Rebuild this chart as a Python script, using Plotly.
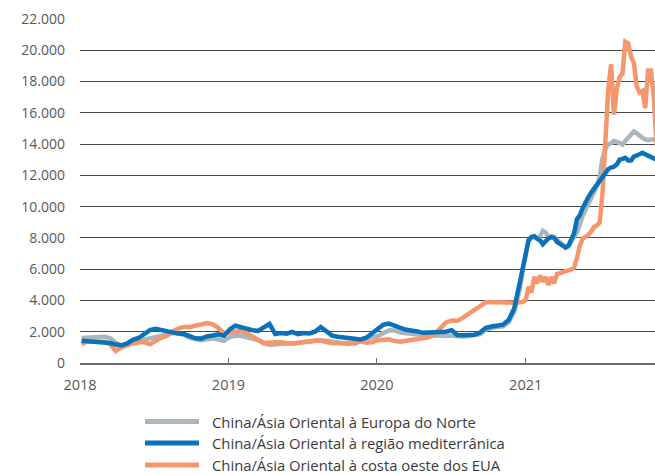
import pandas as pd
import plotly.graph_objects as go

# x grid: bi-weekly 2018-2020, weekly in 2021
dates_a = pd.date_range("2018-01-05", periods=78, freq="14D")
dates_b = pd.date_range("2020-12-25", periods=48, freq="7D")
dates = list(dates_a) + list(dates_b)

europa_norte = [
    1600, 1620, 1680, 1700, 1680, 1600, 1300, 1130, 1200, 1280, 1380, 1500, 1580, 1650, 1760, 1850,
    1920, 1880, 1800, 1600, 1500, 1460, 1520, 1560, 1500, 1420,
    1650, 1760, 1740, 1670, 1560, 1460, 1300, 1150, 1200, 1240, 1240, 1260, 1280, 1320, 1350, 1420,
    1460, 1420, 1350, 1300, 1200, 1200, 1400, 1500, 1560, 1640,
    1720, 1950, 2100, 2080, 1950, 1900, 1860, 1820, 1760, 1740, 1780, 1740, 1720, 1760, 1700, 1700,
    1720, 1750, 1850, 2150, 2250, 2300, 2350, 2600, 3300, 4800,
    6000, 7000, 7800, 8000, 8100, 7950, 8100, 8450, 8350, 8050, 8100, 8050, 7900, 7700, 7550, 7400,
    7450, 7700, 8050, 8350, 9000, 9400, 9800, 10200, 10600, 10900, 11300, 11900, 13100, 13700, 14000, 14050,
    14200, 14150, 14050, 13980, 14200, 14400, 14600, 14800, 14700, 14500, 14400, 14300, 14250, 14300, 14300, 14300,
]

mediterraneo = [
    1420, 1400, 1410, 1380, 1350, 1280, 1180, 1120, 1250, 1480, 1600, 1850, 2100, 2180, 2100, 2000,
    1920, 1880, 1850, 1720, 1580, 1560, 1700, 1760, 1840, 1750,
    2150, 2380, 2270, 2180, 2100, 2050, 2250, 2500, 1850, 1920, 1870, 1990, 1840, 1920, 1890, 2000,
    2300, 2000, 1750, 1680, 1640, 1600, 1570, 1510, 1620, 1900,
    2250, 2450, 2520, 2420, 2250, 2120, 2100, 2020, 1930, 1940, 2000, 1940, 2000, 2100, 1780, 1780,
    1790, 1810, 1950, 2250, 2330, 2380, 2450, 2750, 3500, 5200,
    6200, 7100, 7860, 8050, 8100, 7950, 7850, 7600, 7800, 7970, 8050, 8000, 7750, 7600, 7500, 7380,
    7500, 7900, 8300, 9200, 9450, 9900, 10300, 10600, 10900, 11150, 11350, 11700, 11950, 12200, 12400, 12500,
    12550, 12700, 13000, 13050, 13120, 12950, 12950, 13200, 13250, 13350, 13440, 13350, 13250, 13100, 13050, 13000,
]

costa_oeste_eua = [
    1200, 1390, 1370, 1350, 1350, 1200, 760, 1000, 1150, 1250, 1320, 1330, 1200, 1450, 1620, 1750,
    2020, 2200, 2310, 2310, 2380, 2470, 2560, 2480, 2250, 1900,
    1950, 2050, 2050, 1920, 1700, 1400, 1260, 1310, 1340, 1330, 1280, 1240, 1300, 1350, 1400, 1440,
    1420, 1330, 1260, 1260, 1300, 1280, 1240, 1390, 1300, 1320,
    1460, 1500, 1510, 1400, 1360, 1420, 1500, 1530, 1580, 1660, 1830, 2250, 2600, 2720, 2700, 2900,
    3180, 3400, 3640, 3880, 3880, 3860, 3850, 3870, 3860, 3880,
    3900, 4030, 4880, 4500, 5500, 5090, 5600, 5200, 5500, 4990, 5500, 5100, 5700, 5750, 5830, 5880,
    5930, 5980, 6100, 6700, 7500, 7950, 8050, 8200, 8400, 8700, 8800, 9000, 10900, 14000, 17500, 19100,
    15900, 17500, 18300, 18500, 20550, 20450, 19600, 19200, 17700, 17300, 17400, 16300, 18700, 18700, 17000, 13900,
]

series_names = [
    "China/Ásia Oriental à Europa do Norte",
    "China/Ásia Oriental à região mediterrânica",
    "China/Ásia Oriental à costa oeste dos EUA",
]
series_values = [europa_norte, mediterraneo, costa_oeste_eua]
colors = ["#a9b6ba", "#0b71b9", "#f6966d"]
y_ticks = list(range(0, 22001, 2000))

FONT = "Open Sans"

fig = go.Figure()
for idx in [0, 2, 1]:
    fig.add_trace(go.Scatter(
        x=dates, y=series_values[idx], mode="lines", name=series_names[idx],
        line=dict(color=colors[idx], width=4.5), showlegend=False,
    ))

# custom legend (long line symbols)
L, T, W, H = 80, 19, 575, 344
legend_y_px = [421.5, 443, 465]
for name, col, ypx in zip(series_names, colors, legend_y_px):
    yp = (T + H - ypx) / H
    fig.add_shape(type="line", xref="paper", yref="paper",
                  x0=(145 - L) / W, x1=(199 - L) / W, y0=yp, y1=yp,
                  line=dict(color=col, width=5))
    fig.add_annotation(xref="paper", yref="paper", x=(210 - L) / W, y=yp,
                       text=name, showarrow=False, xanchor="left", yanchor="middle",
                       font=dict(family=FONT, size=14.8, color="#3a3a3a"))

fig.update_layout(
    width=655, height=475,
    margin=dict(l=L, r=655 - L - W, t=T, b=475 - T - H),
    paper_bgcolor="white", plot_bgcolor="white",
    separators=",.",
    font=dict(family=FONT, size=14, color="#595959"),
    showlegend=False,
)
fig.update_xaxes(
    type="date", range=["2018-01-01", "2021-11-15"],
    tick0="2018-01-01", dtick="M12", tickformat="%Y",
    showgrid=False, showline=True, linecolor="#6b6b6b", linewidth=1.5,
    ticks="inside", ticklen=5, tickcolor="#6b6b6b", tickwidth=1.2,
    ticklabelstandoff=8,
    tickfont=dict(family=FONT, size=14.5, color="#595959"),
)
fig.update_yaxes(
    range=[0, 22000], tickvals=y_ticks, tickformat=",d",
    showgrid=True, gridcolor="#4a4a4a", gridwidth=1, zeroline=False,
    showline=False, ticks="", ticklabelstandoff=14,
    tickfont=dict(family=FONT, size=14, color="#595959"),
)

fig.write_html(
    "out.html",
    config={"displayModeBar": False},
    post_script="document.body.style.margin='0';document.body.style.overflow='hidden';",
)
